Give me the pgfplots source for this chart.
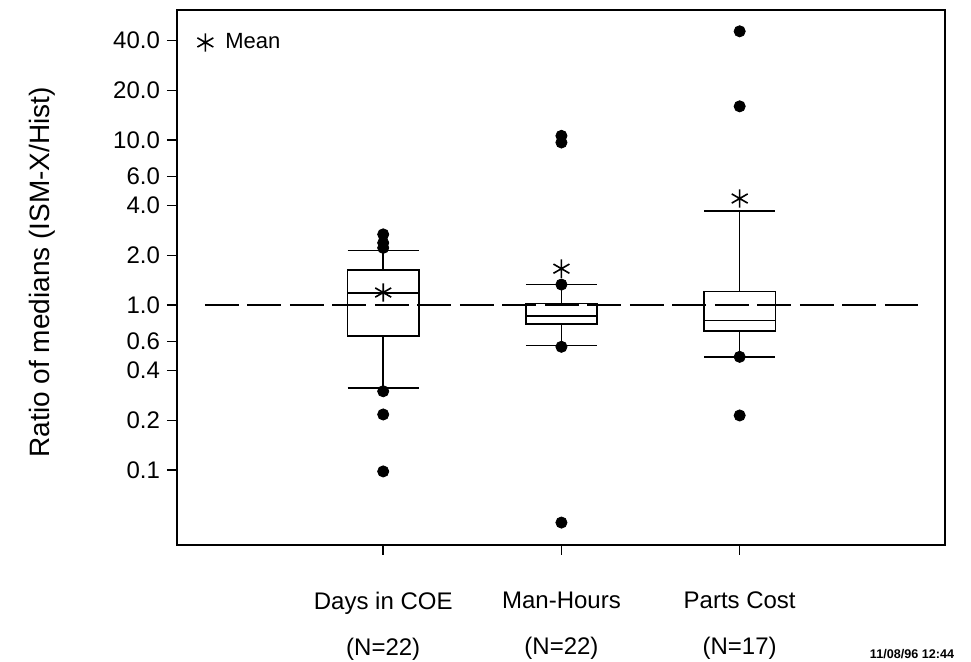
\documentclass[border=0pt]{standalone}
\usepackage{fontspec}
\setmainfont{Liberation Sans}
\usepackage{pgfplots}
\pgfplotsset{compat=1.18}
\usepgfplotslibrary{statistics}
\begin{document}
\begin{tikzpicture}
\begin{axis}[
  name=ax,
  scale only axis, width=384pt, height=267.5pt,
  ymode=log, ymin=0.0351, ymax=61.4,
  xmin=-0.157, xmax=4.152,
  xtick={1,2,3},
  xticklabels={Days in COE\\[8.5pt](N=22),Man-Hours\\[8.5pt](N=22),Parts Cost\\[8.5pt](N=17)},
  xticklabel style={align=center, font=\fontsize{12}{14.4}\selectfont, yshift=-15pt},
  ytick={0.1,0.2,0.4,0.6,1,2,4,6,10,20,40},
  yticklabels={0.1,0.2,0.4,0.6,1.0,2.0,4.0,6.0,10.0,20.0,40.0},
  yticklabel style={font=\fontsize{12}{14}\selectfont},
  yminorticks=false,
  tick align=outside, tick pos=left,
  major tick length=5pt,
  tick style={black, line width=0.8pt},
  axis line style={line width=1pt},
  ylabel={Ratio of medians (ISM-X/Hist)},
  ylabel style={at={(rel axis cs:-0.176,0.51)}, anchor=center, font=\fontsize{14}{16}\selectfont},
  legend style={at={(rel axis cs:0,1)}, anchor=north west, xshift=10pt, yshift=-9.5pt,
    draw=none, fill=none, font=\fontsize{11}{13}\selectfont, column sep=4pt, inner sep=0pt},
  legend image code/.code={\draw[mark=asterisk, mark size=4.6pt, line width=0.8pt] plot coordinates {(0pt,0pt)};},
  boxplot/draw direction=y,
]
\addplot[black, line width=1pt, dash pattern=on 17pt off 4.25pt, forget plot] coordinates {(0,1) (4,1)};
\addplot[black, solid, line width=0.8pt, forget plot, boxplot prepared={draw position=1,
  lower whisker=0.315, lower quartile=0.647, median=1.18, upper quartile=1.625, upper whisker=2.14,
  box extend=0.4, whisker extend=0.4}] coordinates {};
\addplot[black, solid, line width=0.8pt, forget plot, boxplot prepared={draw position=2,
  lower whisker=0.568, lower quartile=0.77, median=0.855, upper quartile=1.02, upper whisker=1.33,
  box extend=0.4, whisker extend=0.4}] coordinates {};
\addplot[black, solid, line width=0.8pt, forget plot, boxplot prepared={draw position=3,
  lower whisker=0.485, lower quartile=0.698, median=0.805, upper quartile=1.21, upper whisker=3.70,
  box extend=0.4, whisker extend=0.4}] coordinates {};
\addplot[only marks, mark=*, mark size=2.8pt, black, forget plot] coordinates {
  (1,2.68) (1,2.38) (1,2.22) (1,0.30) (1,0.217) (1,0.098)
  (2,10.6) (2,9.66) (2,1.33) (2,0.558) (2,0.048)
  (3,45.6) (3,16.0) (3,0.485) (3,0.214)};
\addplot[only marks, mark=asterisk, mark size=4.6pt, line width=0.8pt, black] coordinates {(1,1.19) (2,1.66) (3,4.42)};
\addlegendentry{Mean}
\end{axis}
\node[font=\bfseries\fontsize{6.3}{7}\selectfont, anchor=base] at ([shift={(367.5pt,-57pt)}]ax.south west) {11/08/96 12:44};
\pgfresetboundingbox
\useasboundingbox ([shift={(-88.5pt,-58.5pt)}]ax.south west) rectangle ([shift={(397pt,272.5pt)}]ax.south west);
\end{tikzpicture}
\end{document}
